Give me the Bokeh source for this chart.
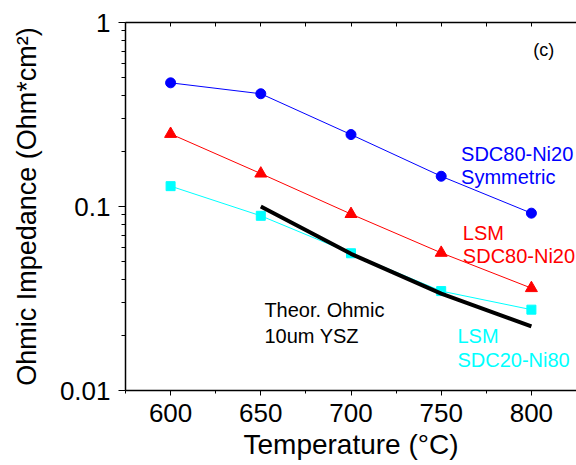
from bokeh.plotting import figure
from bokeh.models import (LinearAxis, FixedTicker, CustomJSTickFormatter, Label,
                          Range1d)
from bokeh.embed import file_html
from bokeh.resources import INLINE

# ---- data ----
temps = [600, 650, 700, 750, 800]
sym_sdc80 = [0.47, 0.41, 0.246, 0.146, 0.092]       # SDC80-Ni20 Symmetric (blue)
lsm_sdc80 = [0.248, 0.151, 0.091, 0.056, 0.036]     # LSM / SDC80-Ni20 (red)
lsm_sdc20 = [0.129, 0.089, 0.0557, 0.0347, 0.0275]  # LSM / SDC20-Ni80 (cyan)
theor_t = [650, 700, 750, 800]
theor = [0.1, 0.0553, 0.0336, 0.0223]               # Theor. Ohmic 10um YSZ

y_major = [0.01, 0.1, 1]
y_minor = [m * d for d in (0.01, 0.1) for m in range(2, 10)]
x_major = [600, 650, 700, 750, 800]
x_minor = [575, 625, 675, 725, 775, 825]

FONT = "Liberation Sans"

p = figure(width=576, height=465, y_axis_type="log",
           x_range=Range1d(575, 825), y_range=Range1d(0.01, 1),
           output_backend="svg", toolbar_location=None,
           min_border_left=125, min_border_right=0,
           min_border_top=22, min_border_bottom=75)
p.outline_line_color = None
p.grid.visible = False
p.background_fill_color = "white"
p.border_fill_color = "white"

# axes
xa = p.xaxis[0]
xa.ticker = FixedTicker(ticks=x_major, minor_ticks=x_minor)
xa.axis_label = "Temperature (°C)"
ya = p.yaxis[0]
ya.ticker = FixedTicker(ticks=y_major, minor_ticks=y_minor)
ya.formatter = CustomJSTickFormatter(code="return String(Number(tick.toPrecision(3)));")
ya.axis_label = "Ohmic Impedance (Ohm*cm²)"

for ax in (xa, ya):
    ax.axis_label_text_font = FONT
    ax.axis_label_text_font_style = "normal"
    ax.axis_label_text_color = "black"
    ax.major_label_text_font = FONT
    ax.major_label_text_font_size = "26px"
    ax.major_label_text_color = "black"
    ax.axis_line_color = "black"
    ax.axis_line_width = 1.5
    ax.major_tick_line_color = "black"
    ax.minor_tick_line_color = "black"
    ax.major_tick_in = 0
    ax.minor_tick_in = 0

xa.axis_label_text_font_size = "28px"
ya.axis_label_text_font_size = "27px"
xa.major_tick_out = 5
xa.minor_tick_out = 3
xa.major_label_standoff = 8
xa.axis_label_standoff = 4
ya.major_tick_out = 7
ya.minor_tick_out = 4
ya.major_label_standoff = 8
ya.axis_label_standoff = 15

top = LinearAxis(ticker=FixedTicker(ticks=x_major + x_minor), major_label_text_font_size="0px",
                 major_tick_in=4, major_tick_out=0, minor_tick_in=0, minor_tick_out=0,
                 axis_line_color="black", axis_line_width=1.5, major_tick_line_color="black")
top.major_label_text_color = None
p.add_layout(top, "above")

# series
p.line(temps, sym_sdc80, line_color="#0000ff", line_width=1)
p.scatter(temps, sym_sdc80, marker="circle", size=10, fill_color="#0000ff", line_color="#0000ff")
p.line(temps, lsm_sdc80, line_color="#ff0000", line_width=1)
p.scatter(temps, lsm_sdc80, marker="triangle", size=12, fill_color="#ff0000", line_color="#ff0000")
p.line(temps, lsm_sdc20, line_color="#00ffff", line_width=1)
p.scatter(temps, lsm_sdc20, marker="square", size=9, fill_color="#00ffff", line_color="#00ffff")
p.line(theor_t, theor, line_color="black", line_width=4)

# annotations
def lab(x, y, t, c, size="20px"):
    p.add_layout(Label(x=x, y=y, text=t, text_color=c, text_font=FONT,
                       text_font_size=size, text_baseline="alphabetic", text_align="left"))

lab(761, 0.194, "SDC80-Ni20", "#0000ff")
lab(761, 0.144, "Symmetric", "#0000ff")
lab(762, 0.0722, "LSM", "#ff0000")
lab(762, 0.0535, "SDC80-Ni20", "#ff0000")
lab(652, 0.0275, "Theor. Ohmic", "black")
lab(652, 0.0197, "10um YSZ", "black")
lab(759, 0.0197, "LSM", "#00ffff")
lab(759, 0.01456, "SDC20-Ni80", "#00ffff")
lab(801, 0.713, "(c)", "black", "18px")

open("out.html", "w").write(file_html(p, INLINE))
